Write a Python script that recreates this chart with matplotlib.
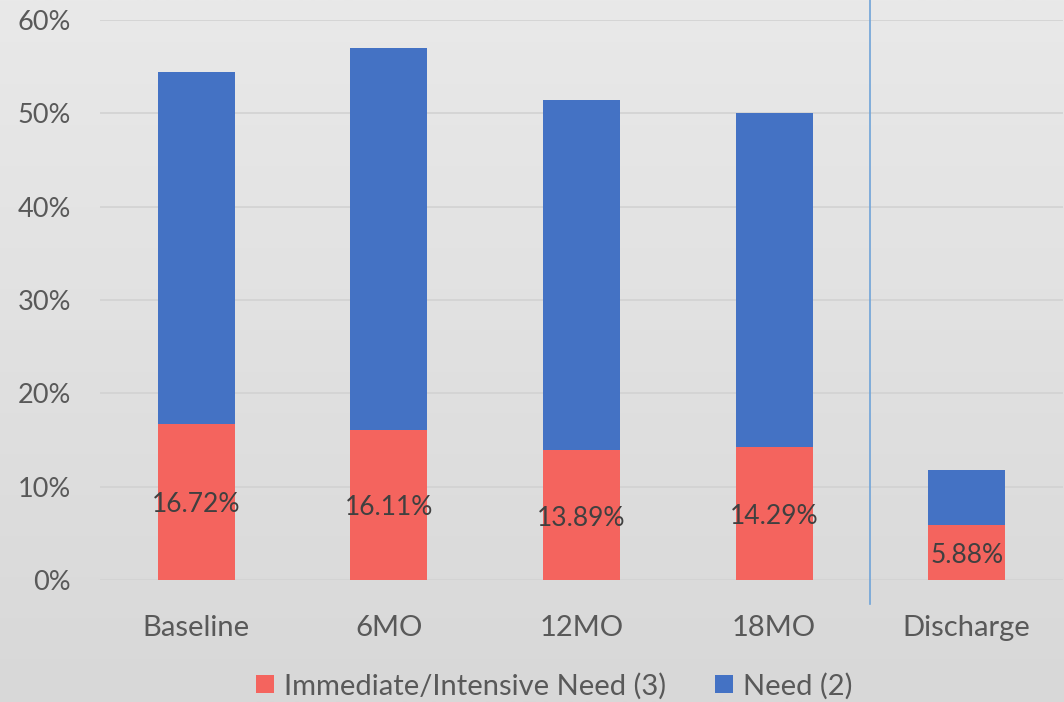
import numpy as np
import matplotlib
matplotlib.use("Agg")
import matplotlib.pyplot as plt
from matplotlib.transforms import blended_transform_factory

categories = ["Baseline", "6MO", "12MO", "18MO", "Discharge"]
immediate = [16.72, 16.11, 13.89, 14.29, 5.88]
need = [37.7, 40.9, 37.5, 35.71, 5.88]
yticks = [0, 10, 20, 30, 40, 50, 60]

plt.rcParams['font.family'] = ['Lato', 'DejaVu Sans']

fig = plt.figure(figsize=(10.64, 7.02), dpi=100)
# gradient background
bg = fig.add_axes([0, 0, 1, 1])
grad = np.linspace(0, 1, 256).reshape(-1, 1)
top = np.array([0xe9, 0xe9, 0xe9]) / 255
bot = np.array([0xd8, 0xd8, 0xd8]) / 255
img = top + (bot - top) * grad[:, :, None]
bg.imshow(img, aspect='auto', extent=[0, 1, 0, 1], origin='upper')
bg.axis('off')

ax = fig.add_axes([100/1064, 1 - 580/702, 963/1064, 560/702])
ax.set_facecolor('none')
x = np.arange(len(categories))
red = '#F4645E'
blue = '#4472C4'
ax.bar(x, immediate, width=0.4, color=red, label='Immediate/Intensive Need (3)', zorder=3)
ax.bar(x, need, width=0.4, bottom=immediate, color=blue, label='Need (2)', zorder=3)

for xi, v in zip(x, immediate):
    ax.annotate(f"{v:.2f}%", (xi, v / 2), xytext=(0, -3), textcoords='offset pixels',
                ha='center', va='center', fontsize=19, color='#404040', zorder=4)

ax.set_xlim(-0.5, 4.5)
ax.set_ylim(0, 60)
ax.set_yticks(yticks)
ax.set_yticklabels([f"{t}%" for t in yticks])
ax.set_xticks(x)
ax.set_xticklabels(categories)
ax.tick_params(axis='both', length=0, labelcolor='#595959')
ax.tick_params(axis='x', labelsize=21, pad=25)
ax.tick_params(axis='y', labelsize=19.5, pad=21)
ax.yaxis.grid(True, color='#d2d2d2', linewidth=1.2, zorder=0)
for s in ax.spines.values():
    s.set_visible(False)

trans = blended_transform_factory(ax.transData, fig.transFigure)
ax.plot([3.5, 3.5], [1 - 604/702, 1.0], transform=trans, color='#6FA3D8',
        linewidth=1.2, clip_on=False, zorder=5)

leg = fig.legend(loc='center', bbox_to_anchor=(0.521, 1 - 686/702), ncol=2,
                 frameon=False, fontsize=21, handlelength=0.6, handleheight=0.6,
                 handletextpad=0.35, columnspacing=1.7)
for t in leg.get_texts():
    t.set_color('#595959')

fig.savefig('out.png', dpi=100)
